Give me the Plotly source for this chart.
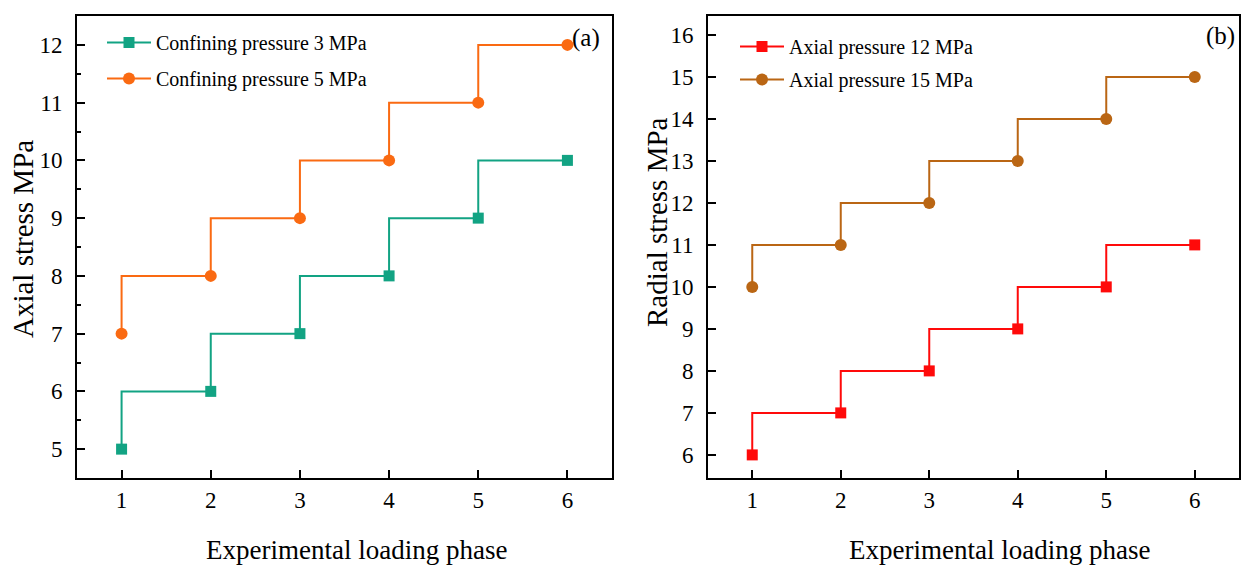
import plotly.graph_objects as go

# ---- data ----
phase = [1, 2, 3, 4, 5, 6]
confining_3 = [5, 6, 7, 8, 9, 10]
confining_5 = [7, 8, 9, 10, 11, 12]
axial_12 = [6, 7, 8, 9, 10, 11]
axial_15 = [10, 11, 12, 13, 14, 15]
x_ticks = [1, 2, 3, 4, 5, 6]

W, H = 1241, 568
FONT = "Liberation Serif"

GREEN = "#12A383"
ORANGE = "#FA6A12"
RED = "#FF0A0A"
BROWN = "#BA6614"

fig = go.Figure()

fig.add_trace(go.Scatter(
    x=phase, y=confining_3, name="Confining pressure 3 MPa",
    mode="lines+markers", line=dict(color=GREEN, width=2, shape="vh"),
    marker=dict(symbol="square", size=11, color=GREEN),
    xaxis="x", yaxis="y", legend="legend", legendgroup="a1"))
fig.add_trace(go.Scatter(
    x=phase, y=confining_5, name="Confining pressure 5 MPa",
    mode="lines+markers", line=dict(color=ORANGE, width=2, shape="vh"),
    marker=dict(symbol="circle", size=12, color=ORANGE),
    xaxis="x", yaxis="y", legend="legend", legendgroup="a2"))
fig.add_trace(go.Scatter(
    x=phase, y=axial_12, name="Axial pressure 12 MPa",
    mode="lines+markers", line=dict(color=RED, width=2, shape="vh"),
    marker=dict(symbol="square", size=11, color=RED),
    xaxis="x2", yaxis="y2", legend="legend2", legendgroup="b1"))
fig.add_trace(go.Scatter(
    x=phase, y=axial_15, name="Axial pressure 15 MPa",
    mode="lines+markers", line=dict(color=BROWN, width=2, shape="vh"),
    marker=dict(symbol="circle", size=12, color=BROWN),
    xaxis="x2", yaxis="y2", legend="legend2", legendgroup="b2"))

axis_common = dict(
    showline=True, linecolor="black", linewidth=2, mirror=True,
    showgrid=False, zeroline=False, ticks="inside", ticklen=8,
    tickwidth=2, tickcolor="black",
    tickfont=dict(family=FONT, size=23, color="black"),
)

ydom = [1 - 478 / H, 1 - 16 / H]


def ann(text, px, py, size, angle=0):
    return dict(text=text, x=px / W, y=1 - py / H, xref="paper", yref="paper",
                xanchor="center", yanchor="middle", textangle=angle,
                showarrow=False, font=dict(family=FONT, size=size, color="black"))


fig.update_layout(
    width=W, height=H,
    margin=dict(l=0, r=0, t=0, b=0),
    paper_bgcolor="white", plot_bgcolor="white",
    font=dict(family=FONT, color="black"),
    xaxis=dict(domain=[77 / W, 612 / W], range=[0.5, 6.5],
               tickvals=x_ticks, anchor="y", ticklabelstandoff=0,
               **axis_common),
    yaxis=dict(domain=ydom, range=[4.5, 12.5], dtick=1, anchor="x",
               ticklabelstandoff=8,
               minor=dict(dtick=0.5, ticks="inside", ticklen=4, tickwidth=2,
                          tickcolor="black"),
               **axis_common),
    xaxis2=dict(domain=[708 / W, 1239 / W], range=[0.5, 6.5],
                tickvals=x_ticks, anchor="y2", ticklabelstandoff=0,
                **axis_common),
    yaxis2=dict(domain=ydom, range=[5.45, 16.45], dtick=1, anchor="x2",
                ticklabelstandoff=8,
                **axis_common),
    legend=dict(x=102 / W, y=1 - 23 / H, xanchor="left", yanchor="top",
                bgcolor="rgba(255,255,255,0)", tracegroupgap=7,
                font=dict(family=FONT, size=20, color="black"),
                itemwidth=44),
    legend2=dict(x=735 / W, y=1 - 27 / H, xanchor="left", yanchor="top",
                 bgcolor="rgba(255,255,255,0)", tracegroupgap=4,
                 font=dict(family=FONT, size=20, color="black"),
                 itemwidth=44),
    annotations=[
        ann("(a)", 586, 38, 25),
        ann("(b)", 1220, 36, 25),
        ann("Experimental loading phase", 356, 550, 27),
        ann("Experimental loading phase", 999, 550, 27),
        ann("Axial stress MPa", 23, 239, 29, -90),
        ann("Radial stress MPa", 657, 222, 29, -90),
    ],
)

fig.write_html(
    "out.html",
    config={"displayModeBar": False},
    post_script="document.body.style.margin='0';document.body.style.overflow='hidden';",
)
